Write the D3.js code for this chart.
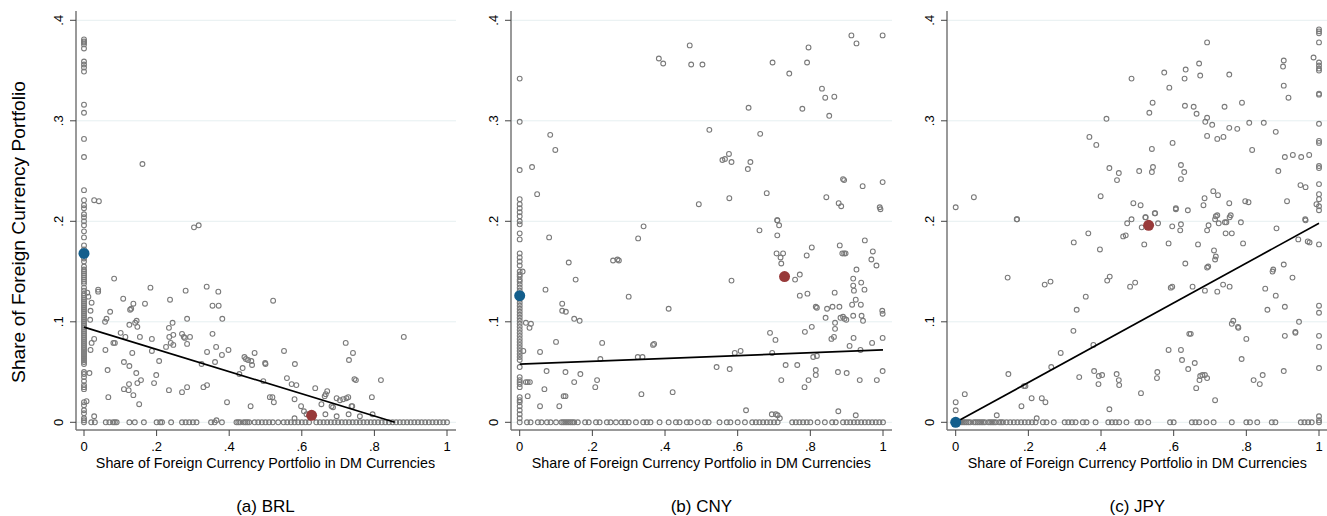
<!DOCTYPE html>
<html>
<head>
<meta charset="utf-8">
<script src="https://cdn.jsdelivr.net/npm/d3@7"></script>
<style>
body { margin: 0; background: #fff; }
svg text { font-family: "Liberation Sans", Arial, Helvetica, sans-serif; }
</style>
</head>
<body>
<div id="chart"></div>
<script>
// ---- data ----
var yTicks = [0, 0.1, 0.2, 0.3, 0.4];
var xTicks = [0, 0.2, 0.4, 0.6, 0.8, 1];
var panelNames = ["(a) BRL", "(b) CNY", "(c) JPY"];

// BRL: points on x = 0, points on y = 0, other points
var brlColY = [0.381, 0.379, 0.378, 0.376, 0.372, 0.359, 0.356, 0.353, 0.349, 0.316, 0.308, 0.282, 0.264, 0.231, 0.221, 0.216, 0.213, 0.207, 0.204, 0.2, 0.196, 0.19, 0.184, 0.176, 0.172, 0.163, 0.16, 0.155, 0.152, 0.15, 0.148, 0.146, 0.144, 0.142, 0.14, 0.138, 0.134, 0.131, 0.128, 0.126, 0.124, 0.122, 0.12, 0.118, 0.116, 0.114, 0.112, 0.11, 0.108, 0.106, 0.104, 0.102, 0.1, 0.098, 0.096, 0.094, 0.092, 0.09, 0.088, 0.086, 0.084, 0.082, 0.08, 0.078, 0.076, 0.074, 0.072, 0.07, 0.068, 0.066, 0.064, 0.062, 0.06, 0.058, 0.05, 0.048, 0.045, 0.041, 0.037, 0.035, 0.033, 0.02, 0.017, 0.012, 0.009, 0.004, 0.002, 0];
var brlRowX = [0.02, 0.03, 0.06, 0.07, 0.08, 0.085, 0.09, 0.125, 0.14, 0.165, 0.2, 0.21, 0.215, 0.24, 0.27, 0.28, 0.29, 0.3, 0.31, 0.35, 0.36, 0.38, 0.42, 0.425, 0.43, 0.44, 0.445, 0.45, 0.455, 0.47, 0.48, 0.49, 0.5, 0.51, 0.52, 0.535, 0.55, 0.56, 0.57, 0.58, 0.59, 0.6, 0.61, 0.62, 0.64, 0.65, 0.66, 0.67, 0.68, 0.69, 0.7, 0.71, 0.72, 0.73, 0.74, 0.75, 0.76, 0.77, 0.78, 0.79, 0.8, 0.81, 0.82, 0.83, 0.84, 0.85, 0.86, 0.87, 0.88, 0.89, 0.9, 0.91, 0.92, 0.93, 0.94, 0.95, 0.96, 0.97, 0.98, 0.99, 1];
var brlPts = [[0.028, 0.221], [0.041, 0.22], [0.161, 0.257], [0.009, 0.129], [0.012, 0.125], [0.021, 0.119], [0.018, 0.111], [0.017, 0.102], [0.028, 0.083], [0.021, 0.079], [0.018, 0.072], [0.015, 0.049], [0.007, 0.021], [0.028, 0.006], [0.039, 0.13], [0.039, 0.132], [0.083, 0.143], [0.058, 0.1], [0.062, 0.103], [0.072, 0.11], [0.059, 0.072], [0.065, 0.052], [0.067, 0.025], [0.081, 0.079], [0.085, 0.079], [0.101, 0.089], [0.108, 0.123], [0.114, 0.085], [0.11, 0.06], [0.11, 0.033], [0.123, 0.032], [0.124, 0.038], [0.125, 0.056], [0.127, 0.112], [0.13, 0.113], [0.136, 0.118], [0.125, 0.097], [0.133, 0.069], [0.136, 0.027], [0.141, 0.099], [0.145, 0.101], [0.147, 0.095], [0.144, 0.049], [0.147, 0.039], [0.157, 0.042], [0.152, 0.018], [0.154, 0.085], [0.168, 0.118], [0.183, 0.134], [0.187, 0.083], [0.187, 0.071], [0.193, 0.039], [0.199, 0.047], [0.207, 0.061], [0.226, 0.075], [0.234, 0.094], [0.237, 0.122], [0.235, 0.085], [0.239, 0.079], [0.244, 0.099], [0.246, 0.087], [0.246, 0.077], [0.234, 0.032], [0.27, 0.088], [0.275, 0.085], [0.278, 0.084], [0.28, 0.131], [0.284, 0.103], [0.284, 0.078], [0.292, 0.085], [0.27, 0.03], [0.284, 0.035], [0.303, 0.194], [0.316, 0.196], [0.324, 0.058], [0.329, 0.035], [0.339, 0.037], [0.338, 0.135], [0.339, 0.07], [0.354, 0.116], [0.354, 0.088], [0.361, 0.06], [0.364, 0.075], [0.37, 0.13], [0.371, 0.116], [0.381, 0.103], [0.38, 0.067], [0.398, 0.072], [0.365, 0.002], [0.394, 0.02], [0.428, 0.048], [0.437, 0.054], [0.442, 0.065], [0.446, 0.063], [0.452, 0.062], [0.461, 0.061], [0.463, 0.057], [0.47, 0.069], [0.459, 0.016], [0.494, 0.041], [0.499, 0.059], [0.5, 0.058], [0.512, 0.025], [0.519, 0.025], [0.523, 0.02], [0.521, 0.121], [0.551, 0.071], [0.559, 0.044], [0.572, 0.038], [0.585, 0.037], [0.581, 0.058], [0.58, 0.023], [0.598, 0.016], [0.606, 0.011], [0.613, 0.008], [0.58, 0.004], [0.637, 0.034], [0.654, 0.018], [0.663, 0.026], [0.666, 0.028], [0.67, 0.031], [0.665, 0.008], [0.682, 0.016], [0.686, 0.015], [0.696, 0.024], [0.705, 0.022], [0.714, 0.023], [0.721, 0.079], [0.723, 0.024], [0.728, 0.025], [0.729, 0.008], [0.73, 0.062], [0.741, 0.069], [0.739, 0.016], [0.745, 0.043], [0.749, 0.042], [0.737, 0.016], [0.76, 0.006], [0.793, 0.025], [0.795, 0.008], [0.818, 0.042], [0.881, 0.085], [0.696, 0.006]];
var brlFitX = [0, 0.856];
var brlFitY = [0.0947, 0];
var brlBlue = [0, 0.168];
var brlRed = [0.627, 0.007];

// CNY
var cnyColY = [0.342, 0.299, 0.251, 0.222, 0.217, 0.213, 0.209, 0.205, 0.2, 0.197, 0.188, 0.182, 0.168, 0.164, 0.16, 0.156, 0.15, 0.147, 0.145, 0.142, 0.14, 0.137, 0.134, 0.131, 0.128, 0.125, 0.122, 0.119, 0.116, 0.113, 0.11, 0.107, 0.104, 0.101, 0.098, 0.095, 0.092, 0.089, 0.086, 0.083, 0.08, 0.077, 0.074, 0.071, 0.068, 0.065, 0.062, 0.055, 0.045, 0.042, 0.04, 0.038, 0.035, 0.025, 0.022, 0.02, 0.016, 0.012, 0.008, 0.004, 0];
var cnyRowX = [0.02, 0.03, 0.05, 0.06, 0.075, 0.085, 0.1, 0.115, 0.12, 0.125, 0.13, 0.135, 0.14, 0.145, 0.15, 0.16, 0.18, 0.19, 0.21, 0.22, 0.24, 0.25, 0.265, 0.28, 0.29, 0.3, 0.32, 0.34, 0.35, 0.36, 0.385, 0.41, 0.43, 0.44, 0.46, 0.47, 0.49, 0.51, 0.52, 0.55, 0.57, 0.58, 0.6, 0.62, 0.64, 0.65, 0.66, 0.67, 0.68, 0.69, 0.7, 0.71, 0.75, 0.76, 0.77, 0.78, 0.79, 0.8, 0.82, 0.84, 0.86, 0.87, 0.89, 0.9, 0.91, 0.92, 0.93, 0.94, 0.95, 0.96, 0.97, 0.98, 0.99, 1];
var cnyPts = [[0.034, 0.254], [0.048, 0.227], [0.084, 0.286], [0.098, 0.271], [0.383, 0.362], [0.395, 0.357], [0.468, 0.375], [0.472, 0.356], [0.503, 0.356], [0.493, 0.217], [0.522, 0.291], [0.558, 0.261], [0.565, 0.262], [0.576, 0.267], [0.583, 0.259], [0.577, 0.223], [0.63, 0.313], [0.628, 0.252], [0.635, 0.259], [0.662, 0.287], [0.68, 0.228], [0.696, 0.358], [0.742, 0.347], [0.778, 0.312], [0.791, 0.358], [0.795, 0.373], [0.832, 0.332], [0.841, 0.323], [0.866, 0.324], [0.852, 0.305], [0.844, 0.224], [0.878, 0.218], [0.885, 0.215], [0.89, 0.242], [0.893, 0.241], [0.913, 0.385], [0.927, 0.377], [0.944, 0.235], [0.991, 0.214], [0.999, 0.239], [0.999, 0.385], [0.709, 0.201], [0.008, 0.15], [0.01, 0.071], [0.017, 0.099], [0.027, 0.094], [0.031, 0.098], [0.017, 0.04], [0.022, 0.04], [0.028, 0.04], [0.022, 0.026], [0.056, 0.07], [0.056, 0.016], [0.071, 0.132], [0.074, 0.051], [0.068, 0.033], [0.081, 0.184], [0.1, 0.08], [0.109, 0.016], [0.117, 0.118], [0.117, 0.111], [0.127, 0.11], [0.126, 0.05], [0.121, 0.026], [0.126, 0.026], [0.135, 0.159], [0.15, 0.103], [0.165, 0.101], [0.154, 0.142], [0.15, 0.04], [0.167, 0.048], [0.208, 0.035], [0.213, 0.042], [0.222, 0.063], [0.227, 0.079], [0.257, 0.161], [0.269, 0.162], [0.273, 0.161], [0.3, 0.125], [0.326, 0.183], [0.341, 0.195], [0.325, 0.065], [0.338, 0.065], [0.335, 0.028], [0.367, 0.077], [0.37, 0.078], [0.41, 0.113], [0.421, 0.03], [0.542, 0.055], [0.578, 0.053], [0.583, 0.141], [0.592, 0.069], [0.608, 0.071], [0.623, 0.012], [0.66, 0.191], [0.689, 0.089], [0.695, 0.069], [0.704, 0.082], [0.694, 0.008], [0.705, 0.008], [0.709, 0.186], [0.707, 0.168], [0.709, 0.201], [0.714, 0.196], [0.718, 0.164], [0.72, 0.158], [0.725, 0.168], [0.71, 0.007], [0.716, 0.004], [0.72, 0.042], [0.732, 0.057], [0.758, 0.142], [0.771, 0.147], [0.771, 0.126], [0.764, 0.057], [0.784, 0.035], [0.785, 0.09], [0.79, 0.166], [0.792, 0.128], [0.795, 0.042], [0.804, 0.174], [0.804, 0.095], [0.808, 0.065], [0.815, 0.115], [0.818, 0.114], [0.818, 0.066], [0.815, 0.052], [0.815, 0.047], [0.842, 0.104], [0.846, 0.113], [0.861, 0.115], [0.867, 0.129], [0.858, 0.083], [0.865, 0.085], [0.868, 0.093], [0.868, 0.099], [0.876, 0.05], [0.88, 0.115], [0.881, 0.176], [0.888, 0.168], [0.893, 0.168], [0.897, 0.168], [0.883, 0.104], [0.89, 0.105], [0.894, 0.103], [0.899, 0.102], [0.877, 0.011], [0.9, 0.049], [0.908, 0.076], [0.918, 0.143], [0.918, 0.136], [0.92, 0.131], [0.919, 0.084], [0.918, 0.106], [0.915, 0.117], [0.925, 0.122], [0.927, 0.152], [0.939, 0.117], [0.94, 0.139], [0.941, 0.106], [0.945, 0.101], [0.949, 0.132], [0.95, 0.181], [0.936, 0.042], [0.938, 0.072], [0.925, 0.007], [0.968, 0.162], [0.972, 0.17], [0.982, 0.156], [0.97, 0.079], [0.983, 0.042], [0.998, 0.111], [0.999, 0.108], [0.999, 0.084], [0.999, 0.051], [0.993, 0.212]];
var cnyFitX = [0, 1];
var cnyFitY = [0.0578, 0.0721];
var cnyBlue = [0, 0.126];
var cnyRed = [0.729, 0.145];

// JPY
var jpyColY = [0.214, 0.02, 0.012];
var jpyRowX = [0.01, 0.015, 0.02, 0.025, 0.03, 0.035, 0.04, 0.05, 0.055, 0.06, 0.065, 0.07, 0.075, 0.08, 0.09, 0.095, 0.1, 0.105, 0.11, 0.12, 0.125, 0.13, 0.14, 0.15, 0.16, 0.17, 0.18, 0.19, 0.2, 0.21, 0.22, 0.24, 0.25, 0.27, 0.3, 0.31, 0.32, 0.33, 0.35, 0.36, 0.385, 0.42, 0.43, 0.44, 0.45, 0.47, 0.5, 0.51, 0.53, 0.59, 0.6, 0.65, 0.66, 0.67, 0.69, 0.71, 0.76, 0.8, 0.81, 0.83, 0.87, 0.88, 0.95, 0.96, 0.97, 0.98, 1];
var jpyPts = [[0.05, 0.224], [0.168, 0.202], [0.368, 0.284], [0.387, 0.276], [0.415, 0.302], [0.399, 0.225], [0.423, 0.253], [0.444, 0.241], [0.449, 0.248], [0.484, 0.342], [0.505, 0.25], [0.489, 0.218], [0.509, 0.216], [0.522, 0.204], [0.548, 0.208], [0.533, 0.308], [0.542, 0.318], [0.54, 0.272], [0.543, 0.254], [0.54, 0.249], [0.574, 0.348], [0.588, 0.333], [0.597, 0.278], [0.606, 0.213], [0.62, 0.256], [0.629, 0.249], [0.62, 0.242], [0.63, 0.342], [0.633, 0.351], [0.631, 0.315], [0.639, 0.211], [0.655, 0.314], [0.663, 0.307], [0.67, 0.357], [0.673, 0.345], [0.692, 0.378], [0.692, 0.303], [0.687, 0.299], [0.706, 0.296], [0.692, 0.285], [0.72, 0.282], [0.737, 0.284], [0.685, 0.223], [0.682, 0.216], [0.709, 0.23], [0.722, 0.226], [0.716, 0.205], [0.753, 0.346], [0.74, 0.314], [0.753, 0.293], [0.775, 0.292], [0.788, 0.318], [0.808, 0.298], [0.816, 0.271], [0.753, 0.218], [0.797, 0.22], [0.806, 0.219], [0.848, 0.298], [0.881, 0.289], [0.888, 0.25], [0.903, 0.36], [0.901, 0.354], [0.903, 0.335], [0.916, 0.323], [0.906, 0.264], [0.928, 0.266], [0.951, 0.264], [0.973, 0.266], [0.912, 0.22], [0.949, 0.236], [0.963, 0.234], [0.985, 0.363], [0.993, 0.217], [0.962, 0.202], [1, 0.391], [1, 0.389], [1, 0.387], [1, 0.378], [1, 0.358], [1, 0.355], [1, 0.352], [1, 0.35], [1, 0.327], [1, 0.326], [1, 0.297], [1, 0.28], [1, 0.278], [1, 0.255], [1, 0.253], [1, 0.237], [1, 0.227], [1, 0.222], [1, 0.215], [1, 0.211], [1, 0.177], [1, 0.116], [1, 0.109], [1, 0.086], [1, 0.075], [1, 0.054], [1, 0.006], [1, 0.002], [0.025, 0.028], [0.143, 0.144], [0.169, 0.202], [0.145, 0.048], [0.113, 0.007], [0.181, 0.016], [0.188, 0.036], [0.192, 0.036], [0.209, 0.024], [0.237, 0.024], [0.247, 0.02], [0.223, 0.004], [0.245, 0.137], [0.261, 0.14], [0.263, 0.055], [0.289, 0.069], [0.324, 0.091], [0.325, 0.179], [0.333, 0.112], [0.34, 0.045], [0.358, 0.125], [0.365, 0.188], [0.379, 0.077], [0.381, 0.051], [0.393, 0.038], [0.394, 0.046], [0.403, 0.047], [0.397, 0.172], [0.417, 0.141], [0.424, 0.145], [0.423, 0.013], [0.443, 0.048], [0.449, 0.042], [0.45, 0.037], [0.461, 0.185], [0.468, 0.186], [0.472, 0.198], [0.484, 0.202], [0.48, 0.135], [0.494, 0.139], [0.51, 0.029], [0.512, 0.194], [0.523, 0.204], [0.519, 0.177], [0.549, 0.208], [0.557, 0.198], [0.555, 0.05], [0.554, 0.044], [0.586, 0.178], [0.596, 0.195], [0.592, 0.134], [0.596, 0.135], [0.586, 0.072], [0.606, 0.212], [0.62, 0.197], [0.618, 0.191], [0.62, 0.072], [0.623, 0.062], [0.632, 0.158], [0.64, 0.053], [0.643, 0.088], [0.647, 0.088], [0.652, 0.135], [0.658, 0.059], [0.662, 0.034], [0.667, 0.177], [0.671, 0.042], [0.673, 0.046], [0.679, 0.047], [0.686, 0.047], [0.692, 0.044], [0.686, 0.131], [0.692, 0.191], [0.696, 0.196], [0.692, 0.154], [0.695, 0.155], [0.711, 0.171], [0.714, 0.162], [0.716, 0.165], [0.72, 0.13], [0.714, 0.022], [0.714, 0.202], [0.72, 0.206], [0.724, 0.198], [0.736, 0.137], [0.741, 0.199], [0.745, 0.199], [0.743, 0.188], [0.754, 0.204], [0.757, 0.206], [0.76, 0.188], [0.754, 0.135], [0.76, 0.098], [0.764, 0.101], [0.777, 0.095], [0.778, 0.094], [0.785, 0.199], [0.791, 0.178], [0.787, 0.063], [0.8, 0.083], [0.82, 0.042], [0.837, 0.038], [0.845, 0.047], [0.852, 0.133], [0.858, 0.112], [0.872, 0.15], [0.874, 0.152], [0.881, 0.126], [0.883, 0.193], [0.903, 0.157], [0.906, 0.115], [0.906, 0.086], [0.903, 0.051], [0.927, 0.144], [0.935, 0.09], [0.935, 0.089], [0.945, 0.1], [0.943, 0.182], [0.963, 0.201], [0.969, 0.18], [0.974, 0.179]];
var jpyFitX = [0, 1];
var jpyFitY = [0, 0.198];
var jpyBlue = [0, 0];
var jpyRed = [0.531, 0.196];

// ---- layout ----
var width = 1327, height = 516;
var svg = d3.select("#chart").append("svg")
	.attr("width", width)
	.attr("height", height);

var panels = [
	{ name: panelNames[0], colY: brlColY, rowX: brlRowX, pts: brlPts, fitX: brlFitX, fitY: brlFitY, blue: brlBlue, red: brlRed, axisX: 76, x0: 84, x1: 447, right: 456 },
	{ name: panelNames[1], colY: cnyColY, rowX: cnyRowX, pts: cnyPts, fitX: cnyFitX, fitY: cnyFitY, blue: cnyBlue, red: cnyRed, axisX: 511, x0: 519.7, x1: 883, right: 892 },
	{ name: panelNames[2], colY: jpyColY, rowX: jpyRowX, pts: jpyPts, fitX: jpyFitX, fitY: jpyFitY, blue: jpyBlue, red: jpyRed, axisX: 947, x0: 955.7, x1: 1319, right: 1327 }
];

var yTop = 20.3, yBottom = 422.3, axisY = 430;
var y_scale = d3.scaleLinear().domain([0, 0.4]).range([yBottom, yTop]);

function fmt(d) {
	if(d == 0) return "0";
	if(d == 1) return "1";
	return d3.format(".1f")(d).replace(/^0/, "");
}

panels.forEach(function(p, pi) {
	var x_scale = d3.scaleLinear().domain([0, 1]).range([p.x0, p.x1]);
	var g = svg.append("g").attr("class", "panel_" + pi);

	// gridlines
	g.selectAll("line.grid")
		.data(yTicks)
		.enter()
		.append("line")
		.attr("class", "grid")
		.attr("x1", p.axisX)
		.attr("x2", p.right)
		.attr("y1", function(d) { return y_scale(d); })
		.attr("y2", function(d) { return y_scale(d); })
		.attr("stroke", "#e6eff1")
		.attr("stroke-width", 1);

	// points
	var allPts = [];
	p.colY.forEach(function(v) { allPts.push([0, v]); });
	p.rowX.forEach(function(v) { allPts.push([v, 0]); });
	p.pts.forEach(function(v) { allPts.push(v); });

	g.selectAll("circle.pt")
		.data(allPts)
		.enter()
		.append("circle")
		.attr("class", "pt")
		.attr("cx", function(d) { return x_scale(d[0]); })
		.attr("cy", function(d) { return y_scale(d[1]); })
		.attr("r", 2.4)
		.attr("fill", "none")
		.attr("stroke", "#7a7a7a")
		.attr("stroke-width", 1.1);

	// fitted line
	var line = d3.line()
		.x(function(d) { return x_scale(d[0]); })
		.y(function(d) { return y_scale(d[1]); });
	g.append("path")
		.datum(d3.zip(p.fitX, p.fitY))
		.attr("d", line)
		.attr("fill", "none")
		.attr("stroke", "#000")
		.attr("stroke-width", 1.7);

	// highlighted points
	g.append("circle")
		.attr("cx", x_scale(p.blue[0]))
		.attr("cy", y_scale(p.blue[1]))
		.attr("r", 5.5)
		.attr("fill", "#135e8c");
	g.append("circle")
		.attr("cx", x_scale(p.red[0]))
		.attr("cy", y_scale(p.red[1]))
		.attr("r", 5.5)
		.attr("fill", "#983a3a");

	// axes lines
	g.append("line")
		.attr("x1", p.axisX).attr("x2", p.axisX)
		.attr("y1", 11).attr("y2", axisY)
		.attr("stroke", "#777").attr("stroke-width", 1.5);
	g.append("line")
		.attr("x1", p.axisX).attr("x2", p.right)
		.attr("y1", axisY).attr("y2", axisY)
		.attr("stroke", "#777").attr("stroke-width", 1.5);

	// y ticks
	g.selectAll("line.ytick")
		.data(yTicks)
		.enter()
		.append("line")
		.attr("class", "ytick")
		.attr("x1", p.axisX - 6).attr("x2", p.axisX)
		.attr("y1", function(d) { return y_scale(d); })
		.attr("y2", function(d) { return y_scale(d); })
		.attr("stroke", "#444").attr("stroke-width", 1);
	g.selectAll("text.ylab")
		.data(yTicks)
		.enter()
		.append("text")
		.attr("class", "ylab")
		.attr("transform", function(d) { return "translate(" + (p.axisX - 13) + "," + y_scale(d) + ") rotate(-90)"; })
		.attr("text-anchor", "middle")
		.attr("font-size", "13px")
		.text(fmt);

	// x ticks
	g.selectAll("line.xtick")
		.data(xTicks)
		.enter()
		.append("line")
		.attr("class", "xtick")
		.attr("x1", function(d) { return x_scale(d); })
		.attr("x2", function(d) { return x_scale(d); })
		.attr("y1", axisY).attr("y2", axisY + 6)
		.attr("stroke", "#444").attr("stroke-width", 1);
	g.selectAll("text.xlab")
		.data(xTicks)
		.enter()
		.append("text")
		.attr("class", "xlab")
		.attr("x", function(d) { return x_scale(d); })
		.attr("y", axisY + 21)
		.attr("text-anchor", "middle")
		.attr("font-size", "13px")
		.text(fmt);

	// x title
	g.append("text")
		.attr("x", (p.x0 + p.x1) / 2)
		.attr("y", 468)
		.attr("text-anchor", "middle")
		.attr("font-size", "14.3px")
		.text("Share of Foreign Currency Portfolio in DM Currencies");

	// subtitle
	g.append("text")
		.attr("x", (p.x0 + p.x1) / 2)
		.attr("y", 512)
		.attr("text-anchor", "middle")
		.attr("font-size", "17px")
		.text(p.name);
});

// y title
svg.append("text")
	.attr("transform", "translate(25,232) rotate(-90)")
	.attr("text-anchor", "middle")
	.attr("font-size", "19.2px")
	.text("Share of Foreign Currency Portfolio");
</script>
</body>
</html>
